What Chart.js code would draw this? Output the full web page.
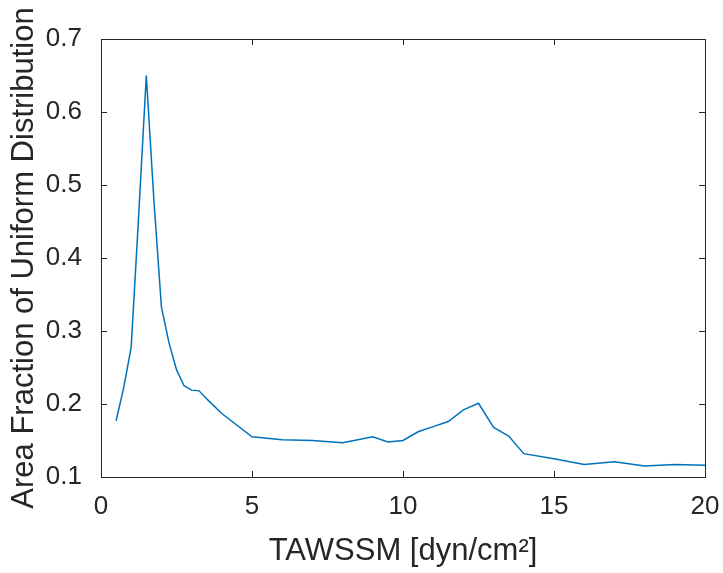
<!DOCTYPE html>
<html>
<head>
<meta charset="utf-8">
<script src="https://cdn.jsdelivr.net/npm/chart.js@4.4.1/dist/chart.umd.min.js"></script>
<style>
  html, body { margin: 0; padding: 0; background: #ffffff; }
  #wrap { width: 723px; height: 573px; position: relative; }
</style>
</head>
<body>
<div id="wrap"><canvas id="chart" width="723" height="573"></canvas></div>
<script>
// Wall shear stress magnitude bins [dyn/cm^2]
const tawssm = [0.5, 0.75, 1, 1.25, 1.5, 1.75, 2, 2.25, 2.5, 2.75, 3, 3.25, 3.5, 4,
                5, 6, 7, 8, 9, 9.5, 10, 10.5, 11, 11.5, 12, 12.5, 13, 13.5, 14,
                15, 16, 17, 18, 19, 20];
// Area fraction of uniform distribution for each bin
const areaFraction = [0.177, 0.222, 0.278, 0.46, 0.65, 0.48, 0.333, 0.284, 0.247, 0.225, 0.219, 0.218, 0.207, 0.187,
                      0.155, 0.151, 0.150, 0.147, 0.155, 0.148, 0.150, 0.162, 0.169, 0.176, 0.192, 0.201, 0.168, 0.156, 0.132,
                      0.125, 0.117, 0.121, 0.115, 0.117, 0.116];
const xTicks = [0, 5, 10, 15, 20];
const yTicks = [0.1, 0.2, 0.3, 0.4, 0.5, 0.6, 0.7];

const axisColor = '#262626';
const fontFamily = '"Liberation Sans", Arial, Helvetica, sans-serif';

// Box outline with inward-pointing tick marks on all four sides
const boxAxes = {
  id: 'boxAxes',
  afterDraw(chart) {
    const { ctx, chartArea: a, scales } = chart;
    const len = 6;
    ctx.save();
    ctx.strokeStyle = axisColor;
    ctx.lineWidth = 1;
    ctx.beginPath();
    scales.x.ticks.forEach(t => {
      const px = Math.round(scales.x.getPixelForValue(t.value)) + 0.5;
      ctx.moveTo(px, a.bottom); ctx.lineTo(px, a.bottom - len);
      ctx.moveTo(px, a.top); ctx.lineTo(px, a.top + len);
    });
    scales.y.ticks.forEach(t => {
      const py = Math.round(scales.y.getPixelForValue(t.value)) + 0.5;
      ctx.moveTo(a.left, py); ctx.lineTo(a.left + len, py);
      ctx.moveTo(a.right, py); ctx.lineTo(a.right - len, py);
    });
    ctx.stroke();
    ctx.strokeRect(Math.round(a.left) + 0.5, Math.round(a.top) + 0.5,
                   Math.round(a.right - a.left), Math.round(a.bottom - a.top));
    ctx.restore();
  }
};

new Chart(document.getElementById('chart'), {
  type: 'line',
  data: {
    datasets: [{
      data: tawssm.map((x, i) => ({ x, y: areaFraction[i] })),
      borderColor: '#0072BD',
      borderWidth: 1.5,
      pointRadius: 0,
      tension: 0,
      fill: false
    }]
  },
  options: {
    responsive: false,
    animation: false,
    devicePixelRatio: 1,
    layout: { padding: { top: 39, right: 18, left: 0, bottom: 0 } },
    plugins: { legend: { display: false }, tooltip: { enabled: false } },
    scales: {
      x: {
        type: 'linear',
        min: 0, max: 20,
        afterBuildTicks(s) { s.ticks = xTicks.map(v => ({ value: v })); },
        afterFit(s) { s.height = 96; s.paddingLeft = 0; s.paddingRight = 0; },
        grid: { display: false },
        border: { display: false },
        ticks: {
          color: axisColor,
          padding: 6,
          maxRotation: 0,
          font: { family: fontFamily, size: 26 },
          callback: v => String(v)
        },
        title: {
          display: true,
          text: 'TAWSSM [dyn/cm²]',
          color: axisColor,
          padding: { top: 0, bottom: 3 },
          font: { family: fontFamily, size: 31 }
        }
      },
      y: {
        type: 'linear',
        min: 0.1, max: 0.7,
        afterBuildTicks(s) { s.ticks = yTicks.map(v => ({ value: v })); },
        afterFit(s) { s.width = 101; },
        grid: { display: false },
        border: { display: false },
        ticks: {
          color: axisColor,
          padding: 11,
          font: { family: fontFamily, size: 26 },
          callback: v => v.toFixed(1)
        },
        title: {
          display: true,
          text: 'Area Fraction of Uniform Distribution',
          color: axisColor,
          padding: { top: 6, bottom: 0 },
          font: { family: fontFamily, size: 31 }
        }
      }
    }
  },
  plugins: [boxAxes]
});
</script>
</body>
</html>
